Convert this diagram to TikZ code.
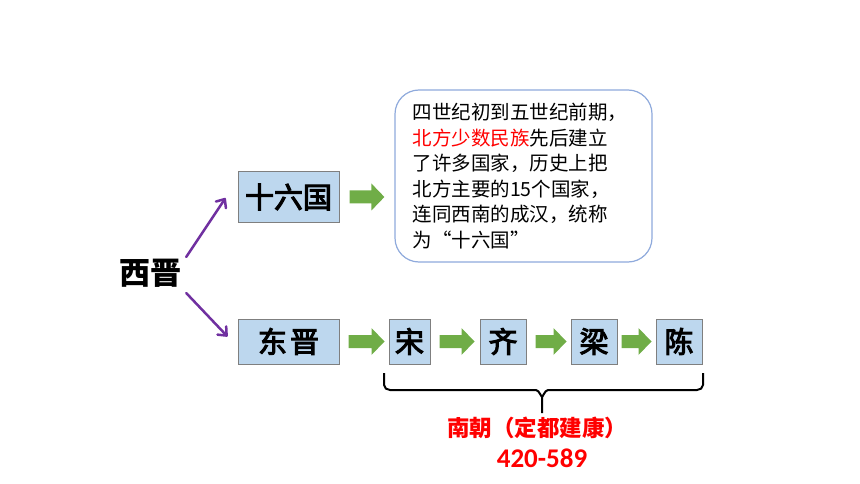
\documentclass[tikz,border=0pt]{standalone}
\usepackage{fontspec}
\setmainfont{Carlito}
\newfontfamily\cjk{Noto Sans CJK SC}
\newfontfamily\cjkmed{Noto Sans CJK SC}[UprightFeatures={FakeBold=3.5}]
\usetikzlibrary{calc,arrows.meta}
\definecolor{boxfill}{HTML}{BDD7EE}
\definecolor{boxline}{HTML}{7F7F7F}
\definecolor{arrgreen}{HTML}{70AD47}
\definecolor{arrpurple}{HTML}{7030A0}
\definecolor{callline}{HTML}{8FAADC}
\definecolor{hired}{HTML}{FF0000}
\tikzset{
  stateBox/.style={draw=boxline, line width=1pt, fill=boxfill, inner sep=0pt,
    minimum height=45pt, font=\cjkmed\fontsize{29}{30}\selectfont},
  greenArrow/.style={fill=arrgreen},
  purpleArrow/.style={draw=arrpurple, line width=2.5pt, line cap=round,
    -{Straight Barb[length=7pt,width=12pt,line cap=round,line join=round]}},
  braceLine/.style={draw=black, line width=2pt, line join=round},
}
% block arrow between two named nodes: #1 from, #2 to, #3 left gap, #4 right gap
\newcommand\garr[4]{%
  \fill[greenArrow] let \p1=($(#1.east)+(#3,0)$), \p2=($(#2.west)+(-#4,0)$) in
   (\x1,\y1-6.5pt) -- (\x2-13pt,\y1-6.5pt) -- (\x2-13pt,\y1-13.5pt) -- (\x2,\y1)
   -- (\x2-13pt,\y1+13.5pt) -- (\x2-13pt,\y1+6.5pt) -- (\x1,\y1+6.5pt) -- cycle;}
\begin{document}
\begin{tikzpicture}[x=1pt,y=-1pt]
\useasboundingbox (0,0) rectangle (860,484);
% west jin
\node[font=\cjk\bfseries\fontsize{31}{32}\selectfont, inner sep=0pt] (xj) at (150,273) {西晋};
% boxes
\node[stateBox, minimum width=101pt, minimum height=50pt] (sl) at (288.5,197) {十六国};
\node[stateBox, minimum width=101pt] (dj) at (288.5,341.5) {东\hspace{3pt}晋};
\node[stateBox, minimum width=41pt] (song) at (409.5,341.5) {宋};
\node[stateBox, minimum width=46pt] (qi) at (503,341.5) {齐};
\node[stateBox, minimum width=46pt] (liang) at (594,341.5) {梁};
\node[stateBox, minimum width=46pt] (chen) at (679,341.5) {陈};
% callout
\node[draw=callline, line width=1.2pt, rounded corners=24pt, fill=white,
  minimum width=257pt, minimum height=172pt, inner xsep=0pt, inner ysep=0pt,
  text width=222pt, align=left, font=\cjk\fontsize{19.5}{25.6}\selectfont]
  (call) at (523.5,176)
  {四世纪初到五世纪前期，\\
   \textcolor{hired}{北方少数民族}先后建立\\
   了许多国家，历史上把\\
   北方主要的15个国家，\\
   连同西南的成汉，统称\\
   为“十六国”};
% purple arrows
\draw[purpleArrow] ($(xj.east)+(5,-16)$) -- ($(sl.west)+(-12,1)$);
\draw[purpleArrow] ($(xj.east)+(5,20)$) -- ($(dj.west)+(-10,-5)$);
% green arrows
\garr{sl}{call}{10pt}{10pt}
\garr{dj}{song}{9pt}{4pt}
\garr{song}{qi}{9pt}{5pt}
\garr{qi}{liang}{9pt}{4pt}
\garr{liang}{chen}{4pt}{4pt}
% brace
\coordinate (bl) at (384,373);
\coordinate (br) at (703,373);
\coordinate (bm) at (542,413);
\draw[braceLine] (bl) -- (384,385) to[out=-90,in=180] (390,390) -- (536,390)
  to[out=0,in=-90] (542,396) -- (bm);
\draw[braceLine] (br) -- (703,385) to[out=-90,in=0] (697,390) -- (548,390)
  to[out=180,in=-90] (542,396);
% labels
\node[text=hired, inner sep=0pt, font=\cjk\bfseries\fontsize{22.5}{24}\selectfont] (nc) at (537,428) {南朝（定都建康）};
\node[text=hired, inner sep=0pt, font=\bfseries\fontsize{27}{28}\selectfont] (yr) at (542,458) {420-589};
\end{tikzpicture}
\end{document}
